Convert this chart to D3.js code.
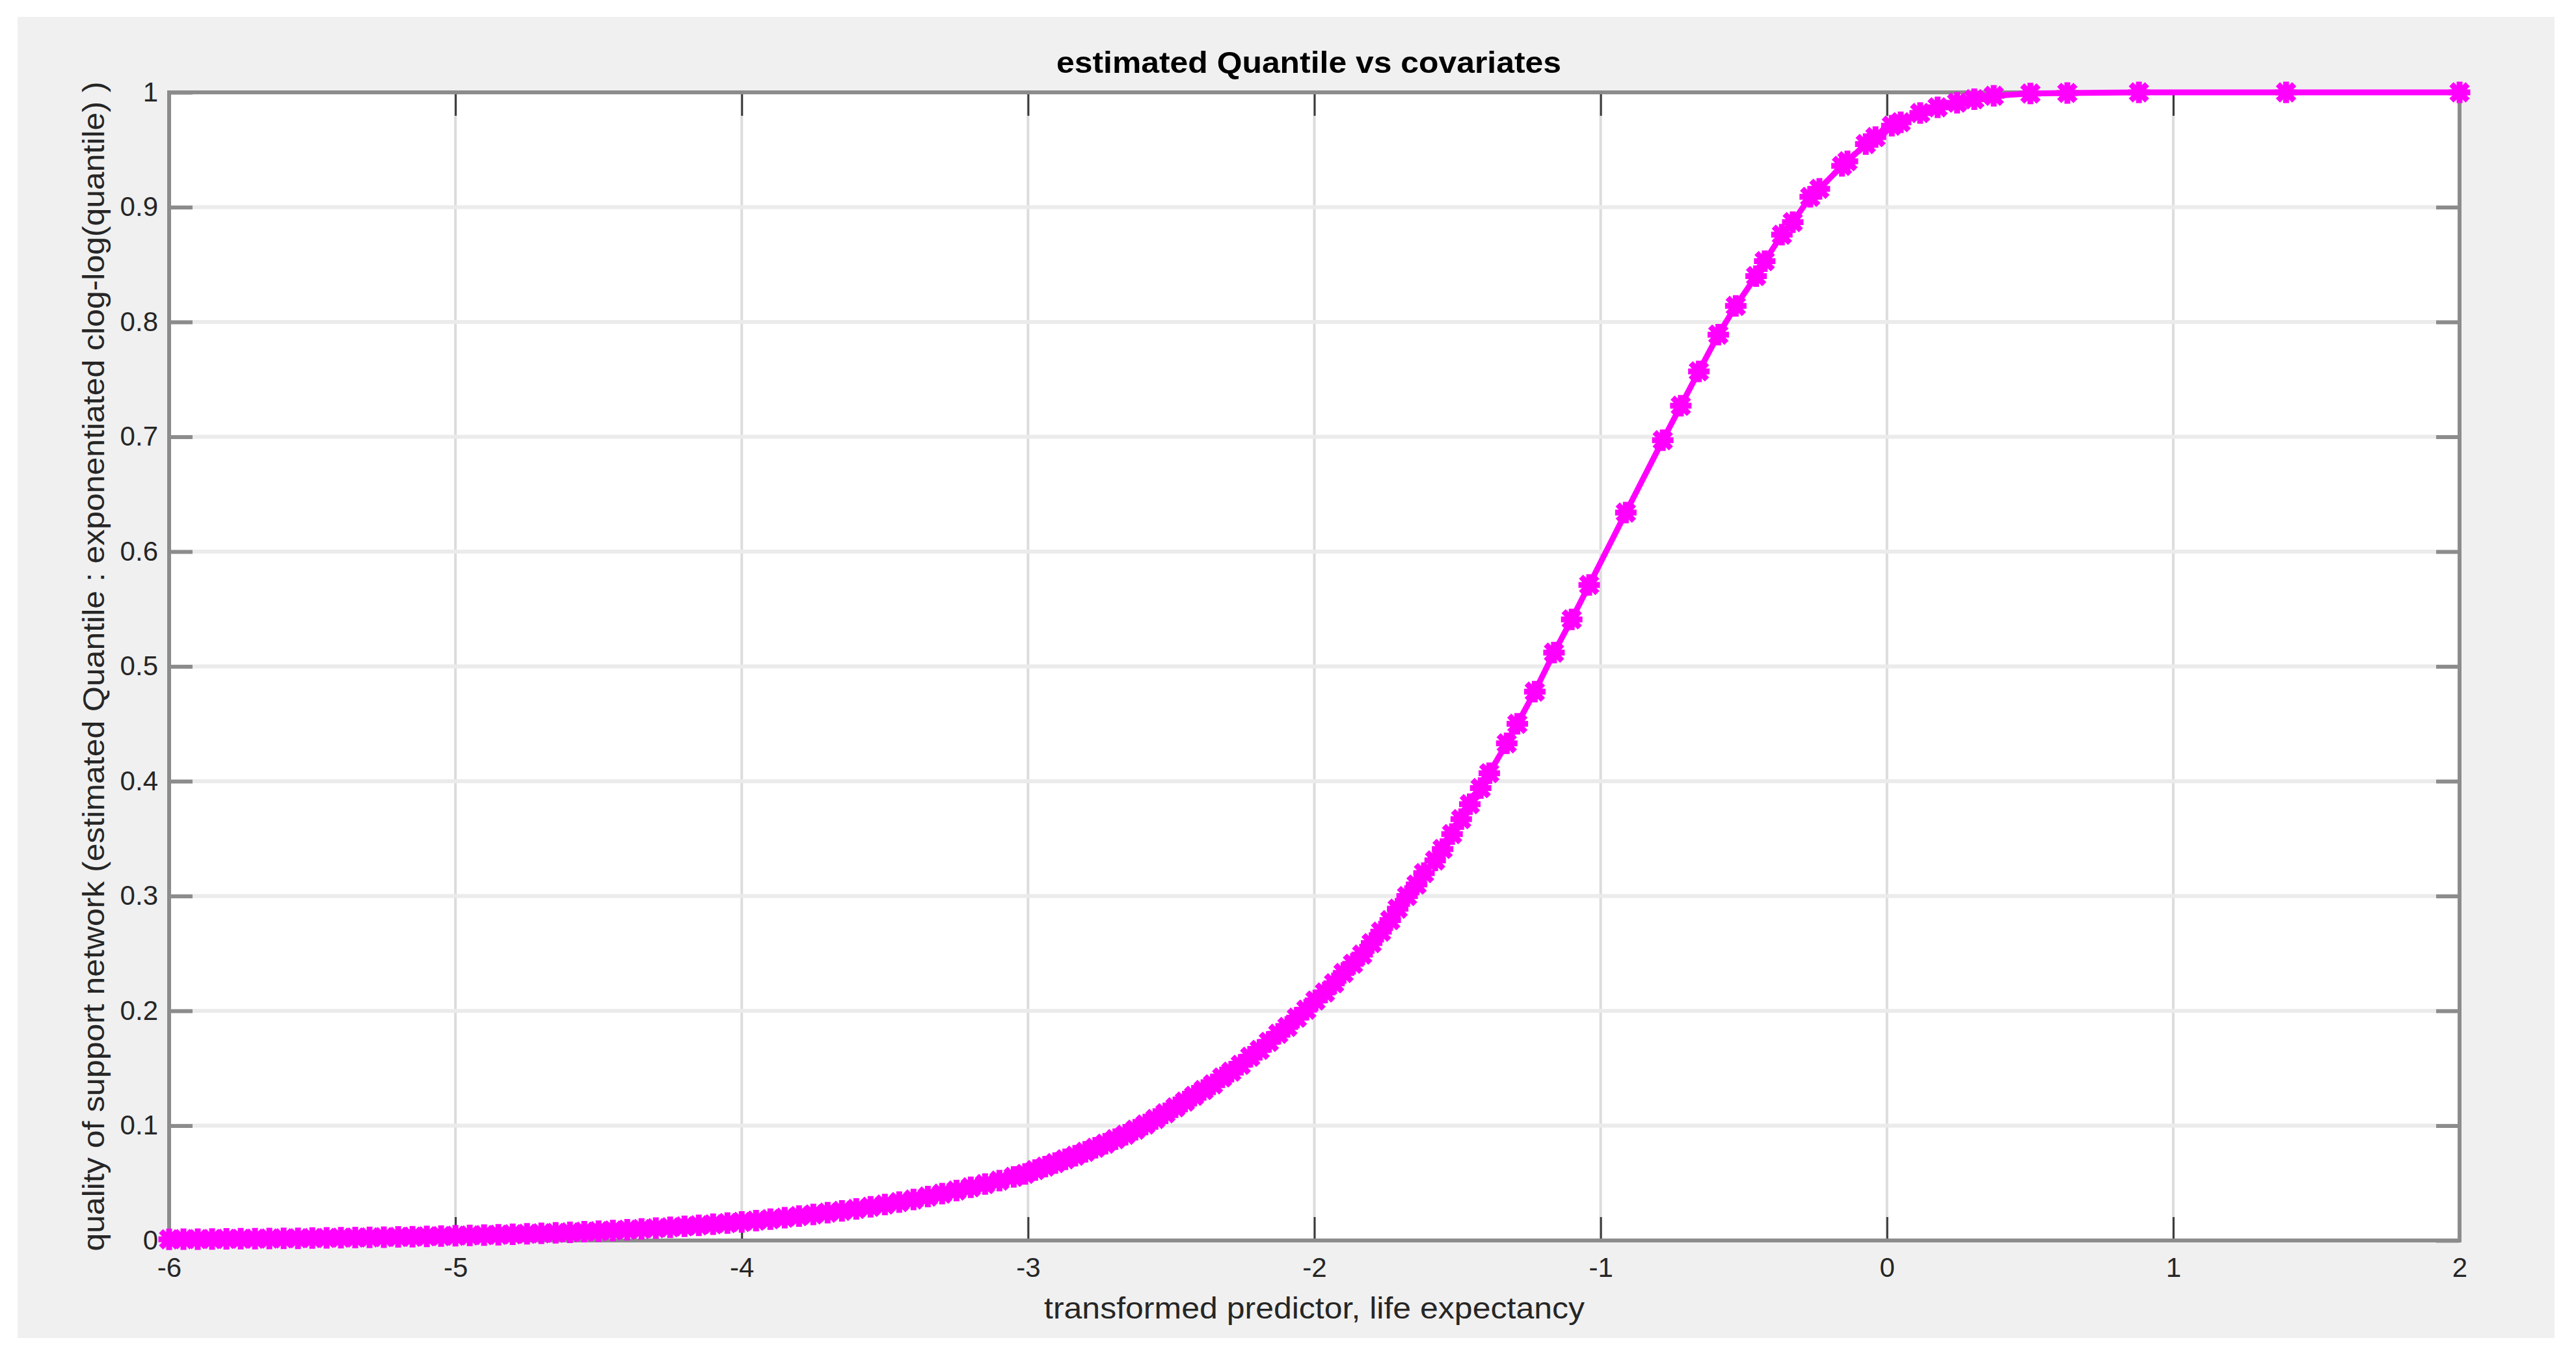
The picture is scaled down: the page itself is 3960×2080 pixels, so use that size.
<!DOCTYPE html>
<meta charset="utf-8">
<style>
    body {margin: 0; background: #fff;}
    svg text {font-family: 'Liberation Sans', Arial, sans-serif; fill: #262626;}
</style>

<svg width="3960" height="2080"></svg>

<script src="https://cdnjs.cloudflare.com/ajax/libs/d3/7.8.5/d3.min.js"></script>
<script>

// data
var xValues = [
  -6.00,-5.95,-5.90,-5.85,-5.80,-5.75,-5.70,-5.65,-5.60,-5.55,
  -5.50,-5.45,-5.40,-5.35,-5.30,-5.25,-5.20,-5.15,-5.10,-5.05,
  -5.00,-4.95,-4.90,-4.85,-4.80,-4.75,-4.70,-4.65,-4.60,-4.55,
  -4.50,-4.45,-4.40,-4.35,-4.30,-4.25,-4.20,-4.15,-4.10,-4.05,
  -4.00,-3.95,-3.90,-3.85,-3.80,-3.75,-3.70,-3.65,-3.60,-3.55,
  -3.50,-3.45,-3.40,-3.35,-3.30,-3.25,-3.20,-3.15,-3.10,-3.05,
  -3.01,-2.975,-2.94,-2.905,-2.87,-2.835,-2.80,-2.765,-2.73,-2.695,
  -2.66,-2.625,-2.59,-2.555,-2.52,-2.485,-2.452,-2.42,-2.387,-2.354,
  -2.322,-2.29,-2.257,-2.224,-2.191,-2.159,-2.126,-2.094,-2.061,-2.028,
  -1.996,-1.963,-1.931,-1.898,-1.865,-1.833,-1.80,-1.767,-1.735,-1.709,
  -1.676,-1.643,-1.617,-1.578,-1.552,-1.519,-1.487,-1.457,-1.419,-1.389,
  -1.328,-1.291,-1.23,-1.163,-1.101,-1.04,-0.912,-0.783,-0.72,-0.657,
  -0.589,-0.528,-0.457,-0.427,-0.367,-0.329,-0.268,-0.236,-0.157,-0.138,
  -0.074,-0.04,0.017,0.048,0.116,0.177,0.245,0.305,0.373,0.501,
  0.63,0.88,1.394,2.0
];

var yValues = [
  0.0010,0.0011,0.0012,0.0013,0.0014,0.0015,0.0016,0.0017,0.0018,0.0019,
  0.0021,0.0022,0.0024,0.0025,0.0027,0.0029,0.0031,0.0033,0.0036,0.0038,
  0.0041,0.0044,0.0047,0.0050,0.0054,0.0058,0.0062,0.0066,0.0071,0.0076,
  0.0081,0.0087,0.0093,0.0100,0.0107,0.0115,0.0123,0.0132,0.0141,0.0151,
  0.0162,0.0173,0.0185,0.0198,0.0212,0.0227,0.0242,0.0258,0.0275,0.0293,
  0.0313,0.0334,0.0357,0.0382,0.0408,0.0435,0.0463,0.0491,0.0521,0.0554,
  0.0580,0.0613,0.0643,0.0674,0.0707,0.0738,0.0772,0.0807,0.0843,0.0882,
  0.0921,0.0965,0.1010,0.1058,0.1108,0.116,0.121,0.126,0.131,0.136,
  0.142,0.147,0.153,0.160,0.166,0.173,0.180,0.186,0.194,0.201,
  0.209,0.216,0.224,0.233,0.241,0.249,0.259,0.269,0.279,0.289,
  0.300,0.310,0.320,0.331,0.341,0.354,0.367,0.380,0.394,0.407,
  0.433,0.450,0.478,0.512,0.541,0.571,0.634,0.697,0.727,0.757,
  0.789,0.814,0.840,0.853,0.876,0.887,0.909,0.916,0.936,0.940,
  0.955,0.961,0.971,0.974,0.982,0.987,0.991,0.994,0.997,0.999,
  0.9995,1.0,1.0,1.0
];

var xTicks = [-6, -5, -4, -3, -2, -1, 0, 1, 2];
var yTicks = [0, 0.1, 0.2, 0.3, 0.4, 0.5, 0.6, 0.7, 0.8, 0.9, 1];

var titleText = "estimated Quantile vs covariates";
var xLabelText = "transformed predictor, life expectancy";
var yLabelText = "quality of support network (estimated Quantile : exponentiated clog-log(quantile) )";

var svg = d3.select("svg"),
    width = +svg.attr("width"),
    height = +svg.attr("height");

// axes box (window.top is reserved, so prefixed names)
var plotLeft = 260, plotRight = 3781, plotTop = 142, plotBottom = 1907;

var x = d3.scaleLinear().domain([-6, 2]).range([plotLeft, plotRight]);
var y = d3.scaleLinear().domain([0, 1]).range([plotBottom, plotTop]);

// grey figure panel
svg.append("rect")
    .attr("x", 27).attr("y", 26)
    .attr("width", 3900).attr("height", 2031)
    .style("fill", "#f0f0f0");

// white axes area
svg.append("rect")
    .attr("x", plotLeft).attr("y", plotTop)
    .attr("width", plotRight - plotLeft).attr("height", plotBottom - plotTop)
    .style("fill", "#fff");

// grid
svg.append("g").selectAll("line")
    .data(xTicks.slice(1, -1))
    .enter().append("line")
    .attr("x1", function(d) { return x(d); })
    .attr("x2", function(d) { return x(d); })
    .attr("y1", plotTop).attr("y2", plotBottom)
    .style("stroke", "#dcdcdc")
    .style("stroke-width", 4);

svg.append("g").selectAll("line")
    .data(yTicks.slice(1, -1))
    .enter().append("line")
    .attr("x1", plotLeft).attr("x2", plotRight)
    .attr("y1", function(d) { return y(d); })
    .attr("y2", function(d) { return y(d); })
    .style("stroke", "#ebebeb")
    .style("stroke-width", 6);

// axes (ticks point inward, box on)
var fmt = function(d) { return String(d); };

var xAxis = svg.append("g")
    .attr("transform", "translate(0," + plotBottom + ")")
    .call(d3.axisBottom(x).tickValues(xTicks).tickFormat(fmt)
        .tickSizeInner(-36).tickSizeOuter(0).tickPadding(26));

var xAxisTop = svg.append("g")
    .attr("transform", "translate(0," + plotTop + ")")
    .call(d3.axisTop(x).tickValues(xTicks).tickFormat("")
        .tickSizeInner(-36).tickSizeOuter(0));

var yAxis = svg.append("g")
    .attr("transform", "translate(" + plotLeft + ",0)")
    .call(d3.axisLeft(y).tickValues(yTicks).tickFormat(fmt)
        .tickSizeInner(-36).tickSizeOuter(0).tickPadding(17));

var yAxisRight = svg.append("g")
    .attr("transform", "translate(" + plotRight + ",0)")
    .call(d3.axisRight(y).tickValues(yTicks).tickFormat("")
        .tickSizeInner(-36).tickSizeOuter(0));

svg.selectAll(".domain").remove();

[xAxis, xAxisTop].forEach(function(a) {
  a.selectAll(".tick line").style("stroke", "#3a3a3a").style("stroke-width", 3);
});
[yAxis, yAxisRight].forEach(function(a) {
  a.selectAll(".tick line").style("stroke", "#8c8c8c").style("stroke-width", 6);
});

svg.selectAll(".tick text")
    .attr("font-family", null)
    .style("font-size", "42px")
    .style("fill", "#262626");

// box
svg.append("rect")
    .attr("x", plotLeft).attr("y", plotTop)
    .attr("width", plotRight - plotLeft).attr("height", plotBottom - plotTop)
    .style("fill", "none")
    .style("stroke", "#8c8c8c")
    .style("stroke-width", 6);

// title and labels
svg.append("text")
    .attr("x", 2012).attr("y", 112)
    .attr("text-anchor", "middle")
    .attr("textLength", 776)
    .attr("lengthAdjust", "spacingAndGlyphs")
    .style("font-size", "47px")
    .style("font-weight", "bold")
    .style("fill", "#000")
    .text(titleText);

svg.append("text")
    .attr("x", (plotLeft + plotRight) / 2).attr("y", 2027)
    .attr("text-anchor", "middle")
    .attr("textLength", 831)
    .attr("lengthAdjust", "spacingAndGlyphs")
    .style("font-size", "46px")
    .text(xLabelText);

svg.append("text")
    .attr("transform", "translate(160," + ((plotTop + plotBottom) / 2) + ") rotate(-90)")
    .attr("text-anchor", "middle")
    .attr("textLength", 1798)
    .attr("lengthAdjust", "spacingAndGlyphs")
    .style("font-size", "46px")
    .text(yLabelText);

// data line + star markers
var points = xValues.map(function(v, i) { return {x: v, y: yValues[i]}; });

var line = d3.line()
    .x(function(d) { return x(d.x); })
    .y(function(d) { return y(d.y); });

svg.append("path")
    .datum(points)
    .attr("d", line)
    .style("fill", "none")
    .style("stroke", "#ff00ff")
    .style("stroke-width", 9)
    .style("stroke-linejoin", "round");

function starPath(r) {
  var p = d3.path(), d = r * 0.78;
  p.moveTo(-r, 0); p.lineTo(r, 0);
  p.moveTo(0, -r); p.lineTo(0, r);
  p.moveTo(-d, -d); p.lineTo(d, d);
  p.moveTo(-d, d); p.lineTo(d, -d);
  return p.toString();
}

svg.append("g").selectAll("path")
    .data(points)
    .enter().append("path")
    .attr("transform", function(d) { return "translate(" + x(d.x) + "," + y(d.y) + ")"; })
    .attr("d", starPath(12))
    .style("fill", "none")
    .style("stroke", "#ff00ff")
    .style("stroke-width", 9)
    .style("stroke-linecap", "square");

</script>
